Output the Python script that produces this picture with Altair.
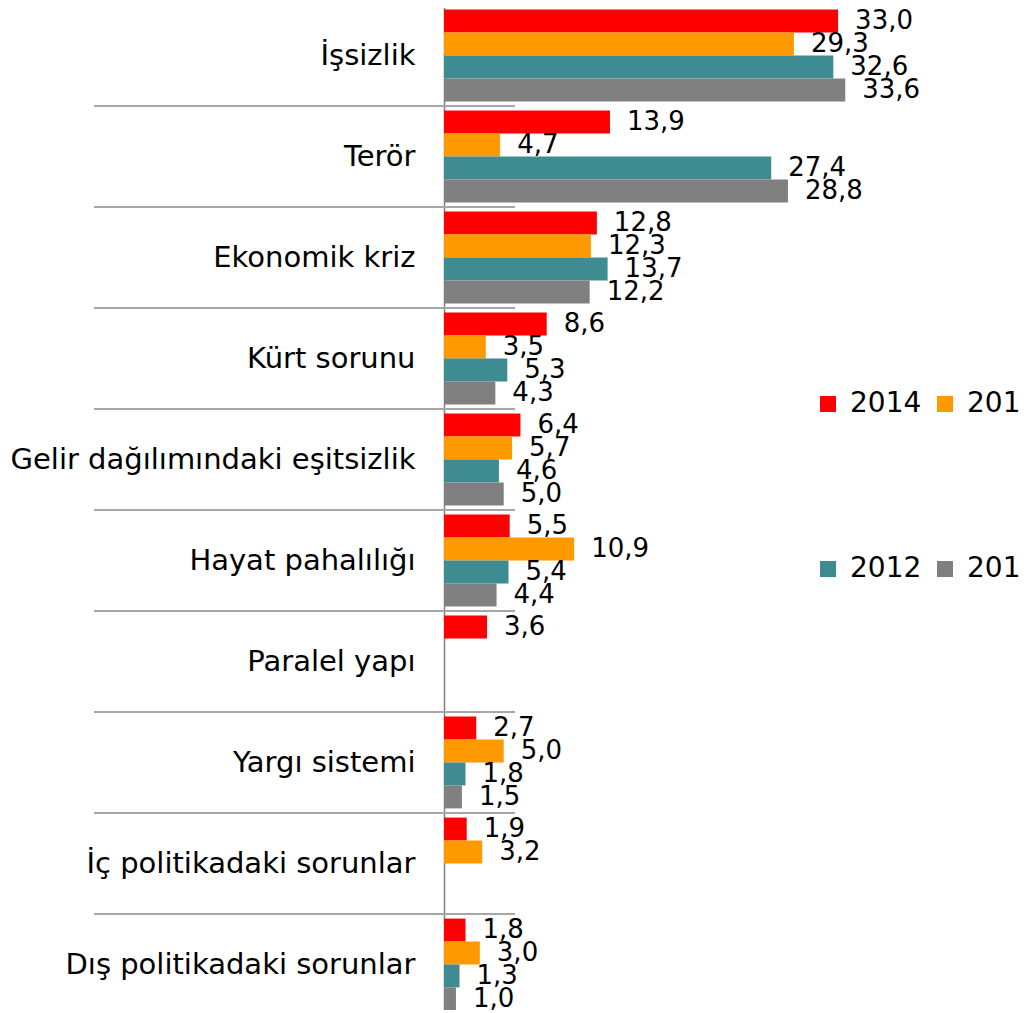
import altair as alt
import pandas as pd

categories = [
    "İşsizlik",
    "Terör",
    "Ekonomik kriz",
    "Kürt sorunu",
    "Gelir dağılımındaki eşitsizlik",
    "Hayat pahalılığı",
    "Paralel yapı",
    "Yargı sistemi",
    "İç politikadaki sorunlar",
    "Dış politikadaki sorunlar",
]
years = ["2014", "2013", "2012", "2011"]
colors = ["#FF0000", "#FF9900", "#3E8B91", "#808080"]

v2014 = [33.0, 13.9, 12.8, 8.6, 6.4, 5.5, 3.6, 2.7, 1.9, 1.8]
v2013 = [29.3, 4.7, 12.3, 3.5, 5.7, 10.9, None, 5.0, 3.2, 3.0]
v2012 = [32.6, 27.4, 13.7, 5.3, 4.6, 5.4, None, 1.8, None, 1.3]
v2011 = [33.6, 28.8, 12.2, 4.3, 5.0, 4.4, None, 1.5, None, 1.0]

rows = []
for yr, vals in zip(years, [v2014, v2013, v2012, v2011]):
    for c, v in zip(categories, vals):
        if v is not None:
            rows.append({"cat": c, "year": yr, "value": v})
df = pd.DataFrame(rows)
sep_df = pd.DataFrame({"cat": categories[1:]})

FONT = "DejaVu Sans"

y_enc = alt.Y(
    "cat:N",
    sort=categories,
    scale=alt.Scale(paddingInner=0, paddingOuter=0),
    axis=alt.Axis(
        title=None,
        tickBand="extent",
        tickSize=8,
        tickColor="#7F7F7F",
        domainColor="#7F7F7F",
        domainWidth=1.5,
        labelFont=FONT,
        labelFontSize=29,
        labelColor="black",
        labelPadding=21,
        labelLimit=600,
    ),
)
yoff = alt.YOffset(
    "year:N", sort=years, scale=alt.Scale(paddingInner=0, paddingOuter=0.2)
)
x_enc = alt.X(
    "value:Q",
    scale=alt.Scale(domain=[0, 48.4], nice=False),
    axis=None,
)

bars = alt.Chart(df).mark_bar().encode(
    y=y_enc,
    yOffset=yoff,
    x=x_enc,
    color=alt.Color(
        "year:N",
        sort=years,
        scale=alt.Scale(domain=years, range=colors),
        legend=alt.Legend(
            orient="none",
            legendX=370,
            legendY=385,
            direction="horizontal",
            columns=2,
            title=None,
            symbolType="square",
            symbolSize=256,
            symbolStrokeWidth=0,
            labelFont=FONT,
            labelFontSize=28,
            labelColor="black",
            labelOffset=8,
            columnPadding=9,
            rowPadding=137,
            padding=0,
        ),
    ),
)

seps = alt.Chart(sep_df).mark_rule(color="#A6A6A6", strokeWidth=2).encode(
    y=alt.Y("cat:N", sort=categories, bandPosition=0),
    x=alt.value(-350),
    x2=alt.value(71),
)

labels = (
    alt.Chart(df)
    .transform_calculate(lab="replace(format(datum.value, '.1f'), '.', ',')")
    .mark_text(align="left", baseline="middle", dx=17, font=FONT, fontSize=26, color="black")
    .encode(y=y_enc, yOffset=yoff, x=x_enc, text="lab:N")
)

chart = (
    alt.layer(bars, seps, labels)
    .properties(
        width=578,
        height=1010,
        autosize="none",
        padding={"left": 436, "top": -3, "right": 0, "bottom": -5},
    )
    .configure_view(stroke=None)
)

chart.save("out.html", embed_options={"renderer": "svg", "actions": False})
